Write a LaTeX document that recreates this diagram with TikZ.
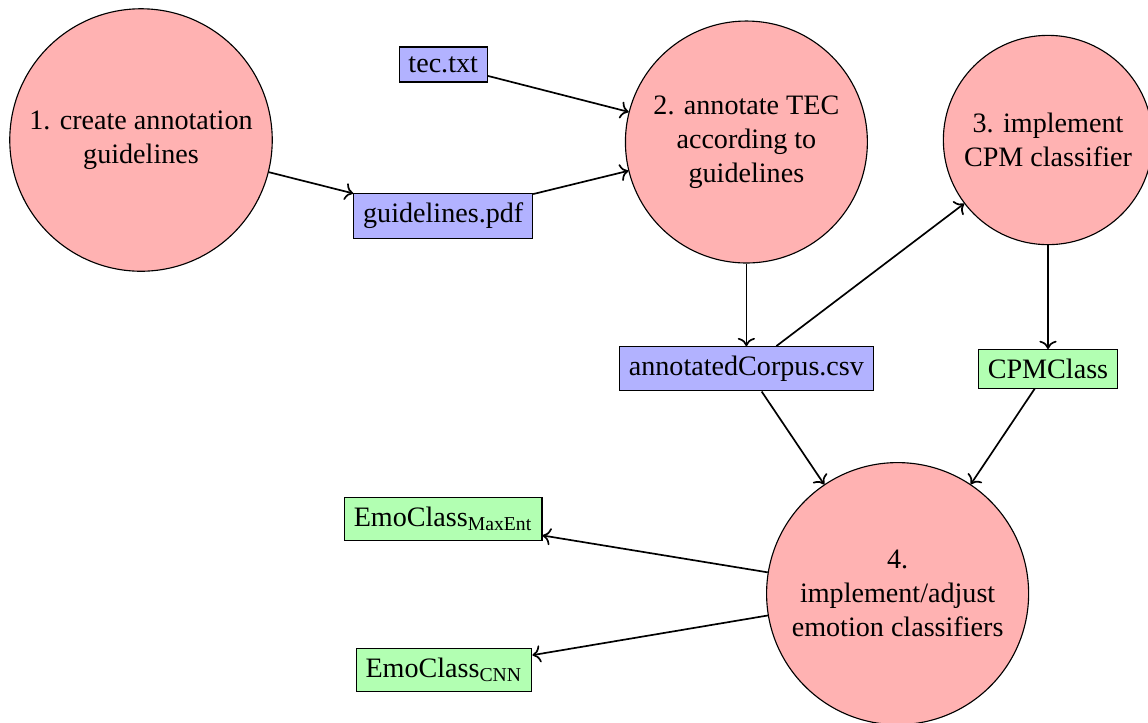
\documentclass[tikz,border=0pt]{standalone}
\usepackage{fontspec}
\setmainfont{Liberation Serif}
\usepackage{tikz}
\usetikzlibrary{arrows.meta}

\begin{document}
\begin{tikzpicture}[
  task/.style={circle,draw,fill=red!30,align=center,inner sep=4.6pt},
  datafile/.style={draw,fill=blue!30},
  model/.style={draw,fill=green!30},
  flow/.style={->,semithick}]
\useasboundingbox (0,0) rectangle (14.35,-9.025);
% steps
\node[task] (create) at (1.7625,-1.75) {1. create annotation\\guidelines};
\node[task] (annotate) at (9.33,-1.775) {2. annotate TEC\\according to\\guidelines};
\node[task] (cpm) at (13.1,-1.75) {3. implement\\CPM classifier};
\node[task] (emo) at (11.22,-7.42) {4.\\implement/adjust\\emotion classifiers};
% files
\node[datafile] (tec) at (5.54,-0.806) {tec.txt};
\node[datafile] (guide) at (5.54,-2.7) {guidelines.pdf};
\node[datafile] (corpus) at (9.33,-4.61) {annotatedCorpus.csv};
% classifiers
\node[model] (cpmclass) at (13.1,-4.61) {CPMClass};
\node[model] (maxent) at (5.54,-6.49) {EmoClass\textsubscript{MaxEnt}};
\node[model] (cnn) at (5.55,-8.375) {EmoClass\textsubscript{CNN}};
\draw[flow] (create)--(guide);
\draw[flow] (tec)--(annotate);
\draw[flow] (guide)--(annotate);
\draw[flow] (annotate)--(corpus);
\draw[flow] (corpus)--(cpm);
\draw[flow] (cpm)--(cpmclass);
\draw[flow] (corpus)--(emo);
\draw[flow] (cpmclass)--(emo);
\draw[flow] (emo)--(maxent);
\draw[flow] (emo)--(cnn);
\end{tikzpicture}
\end{document}
